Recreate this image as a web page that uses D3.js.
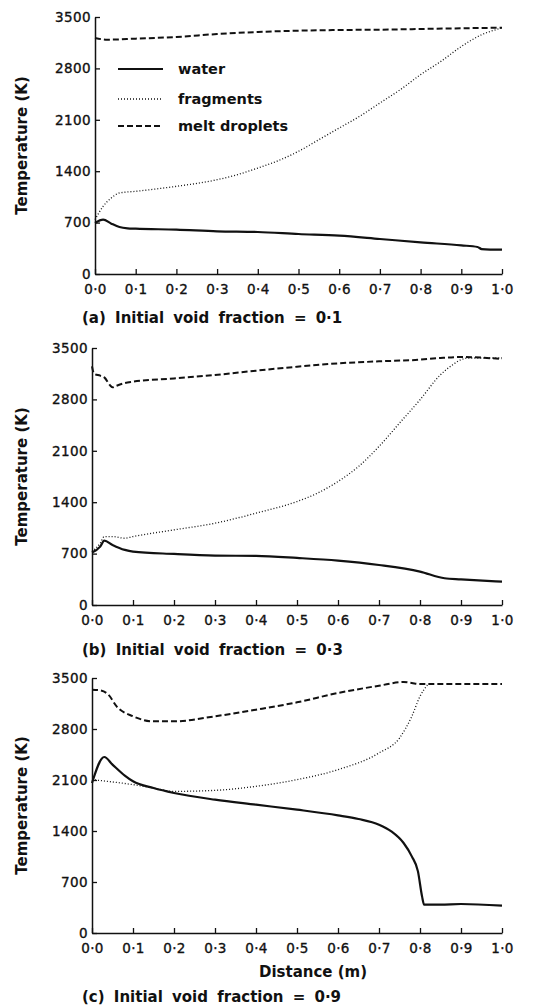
<!DOCTYPE html>
<html>
<head>
<meta charset="utf-8">
<script src="https://cdn.jsdelivr.net/npm/d3@7"></script>
<style>
  html, body { margin: 0; padding: 0; background: #fff; }
  svg { display: block; }
  text { font-family: "DejaVu Sans", sans-serif; fill: #111; }
</style>
</head>
<body>
<svg id="chart" width="541" height="1008"></svg>
<script>
// Axis ticks
const xTicks = [0, 0.1, 0.2, 0.3, 0.4, 0.5, 0.6, 0.7, 0.8, 0.9, 1.0];
const yTicks = [0, 700, 1400, 2100, 2800, 3500];

// Series: [distance (m), temperature (K)]
// (a) initial void fraction 0.1
const waterA = [[0,695],[0.02,740],[0.04,686],[0.06,640],[0.08,622],[0.1,617],[0.2,604],[0.3,581],[0.4,572],[0.5,545],[0.6,522],[0.7,477],[0.8,431],[0.9,390],[0.94,368],[0.95,340],[1.0,331]];
const fragmentsA = [[0,740],[0.02,922],[0.04,1035],[0.06,1103],[0.1,1126],[0.2,1194],[0.3,1284],[0.35,1353],[0.4,1443],[0.45,1543],[0.5,1671],[0.55,1829],[0.6,1988],[0.65,2147],[0.7,2329],[0.75,2510],[0.8,2715],[0.85,2896],[0.9,3098],[0.95,3259],[1.0,3350]];
const meltA = [[0,3214],[0.03,3191],[0.1,3205],[0.2,3228],[0.3,3268],[0.4,3296],[0.5,3314],[0.6,3323],[0.7,3327],[0.8,3337],[0.9,3346],[1.0,3355]];

// (b) initial void fraction 0.3
const waterB = [[0,714],[0.02,795],[0.03,877],[0.05,818],[0.08,750],[0.1,727],[0.2,695],[0.3,673],[0.4,668],[0.5,641],[0.6,605],[0.7,545],[0.8,455],[0.86,364],[0.9,350],[1.0,318]];
const fragmentsB = [[0,727],[0.02,841],[0.03,932],[0.05,932],[0.08,909],[0.1,932],[0.2,1023],[0.3,1114],[0.4,1250],[0.5,1409],[0.55,1523],[0.6,1682],[0.65,1886],[0.7,2159],[0.75,2477],[0.8,2795],[0.85,3136],[0.88,3273],[0.9,3341],[0.92,3364],[1.0,3364]];
const meltB = [[0,3250],[0.005,3150],[0.02,3123],[0.03,3100],[0.045,2986],[0.05,2964],[0.06,2986],[0.08,3023],[0.1,3041],[0.2,3086],[0.3,3132],[0.4,3191],[0.5,3245],[0.6,3291],[0.7,3318],[0.8,3341],[0.85,3364],[0.9,3377],[1.0,3350]];

// (c) initial void fraction 0.9
const waterC = [[0,2059],[0.03,2416],[0.05,2311],[0.08,2160],[0.1,2082],[0.15,1990],[0.2,1922],[0.3,1830],[0.4,1761],[0.5,1693],[0.6,1615],[0.65,1565],[0.7,1487],[0.73,1395],[0.76,1235],[0.78,1052],[0.795,846],[0.805,503],[0.81,389],[0.85,389],[0.9,398],[1.0,375]];
const fragmentsC = [[0,2105],[0.1,2036],[0.15,1990],[0.2,1944],[0.3,1958],[0.4,2013],[0.5,2105],[0.6,2242],[0.7,2471],[0.75,2676],[0.78,2974],[0.8,3248],[0.82,3418]];
const meltC = [[0,3340],[0.02,3331],[0.04,3271],[0.06,3111],[0.1,2974],[0.15,2905],[0.2,2905],[0.3,2974],[0.4,3065],[0.5,3166],[0.6,3294],[0.7,3394],[0.76,3445],[0.78,3431],[0.8,3418],[0.82,3418],[1.0,3418]];

const legendLabels = ["water", "fragments", "melt droplets"];
const captions = [
  "(a) Initial void fraction = 0\u00b71",
  "(b) Initial void fraction = 0\u00b73",
  "(c) Initial void fraction = 0\u00b79"
];
const yTitle = "Temperature (K)";
const xTitle = "Distance (m)";

const styles = {
  water: { width: 2.2, dash: null },
  fragments: { width: 1.3, dash: "1,2" },
  melt: { width: 2, dash: "6,3" }
};

const panels = [
  { x0: 95, x1: 502, top: 17, bottom: 274, water: waterA, fragments: fragmentsA, melt: meltA, caption: captions[0], captionY: 323, legend: true },
  { x0: 92, x1: 502, top: 348, bottom: 605, water: waterB, fragments: fragmentsB, melt: meltB, caption: captions[1], captionY: 655 },
  { x0: 92, x1: 502, top: 678, bottom: 933, water: waterC, fragments: fragmentsC, melt: meltC, caption: captions[2], captionY: 1002, xTitle: true }
];

const svg = d3.select("#chart");
const fmtX = d => d3.format(".1f")(d).replace(".", "\u00b7");

panels.forEach(p => {
  const x = d3.scaleLinear().domain([0, 1]).range([p.x0, p.x1]);
  const y = d3.scaleLinear().domain([0, 3500]).range([p.bottom, p.top]);
  const g = svg.append("g");

  // x axis with inward ticks
  const xa = g.append("g").attr("transform", `translate(0,${p.bottom})`)
    .call(d3.axisBottom(x).tickValues(xTicks).tickSizeInner(-5).tickSizeOuter(0).tickPadding(10).tickFormat(fmtX));
  // y axis with inward ticks
  const ya = g.append("g").attr("transform", `translate(${p.x0},0)`)
    .call(d3.axisLeft(y).tickValues(yTicks).tickSizeInner(-5).tickSizeOuter(0).tickPadding(4).tickFormat(d3.format("d")));
  [xa, ya].forEach(a => {
    a.select(".domain").attr("stroke", "#111").attr("stroke-width", 1.5);
    a.selectAll(".tick line").attr("stroke", "#111").attr("stroke-width", 1.3);
    a.selectAll(".tick text").attr("font-size", 13.5).attr("fill", "#111")
      .attr("stroke", "#111").attr("stroke-width", 0.35)
      .attr("font-family", "DejaVu Sans, sans-serif").attr("letter-spacing", 0.4);
  });

  const line = d3.line().x(d => x(d[0])).y(d => y(d[1])).curve(d3.curveMonotoneX);
  [["melt", p.melt], ["fragments", p.fragments], ["water", p.water]].forEach(([k, data]) => {
    g.append("path").datum(data).attr("d", line)
      .attr("fill", "none").attr("stroke", "#111")
      .attr("stroke-width", styles[k].width)
      .attr("stroke-dasharray", styles[k].dash)
      .attr("stroke-linejoin", "round");
  });

  // rotated y title
  g.append("text")
    .attr("transform", `translate(27,${(p.top + p.bottom) / 2}) rotate(-90)`)
    .attr("text-anchor", "middle").attr("font-size", 15).attr("font-weight", "bold")
    .text(yTitle);

  g.append("text").attr("x", 82).attr("y", p.captionY)
    .attr("font-size", 15).attr("font-weight", "bold").attr("letter-spacing", 0).attr("word-spacing", 4)
    .text(p.caption);

  if (p.xTitle) {
    g.append("text").attr("x", 313).attr("y", 977).attr("text-anchor", "middle")
      .attr("font-size", 15).attr("font-weight", "bold").text(xTitle);
  }

  if (p.legend) {
    const keys = ["water", "fragments", "melt"];
    const lg = g.append("g");
    keys.forEach((k, i) => {
      const ly = [69, 99, 126][i];
      lg.append("line").attr("x1", 118).attr("x2", 163).attr("y1", ly).attr("y2", ly)
        .attr("stroke", "#111").attr("stroke-width", styles[k].width).attr("stroke-dasharray", styles[k].dash);
      lg.append("text").attr("x", 178).attr("y", ly + 5).attr("font-size", 14.5).attr("font-weight", "bold")
        .text(legendLabels[i]);
    });
  }
});
</script>
</body>
</html>
